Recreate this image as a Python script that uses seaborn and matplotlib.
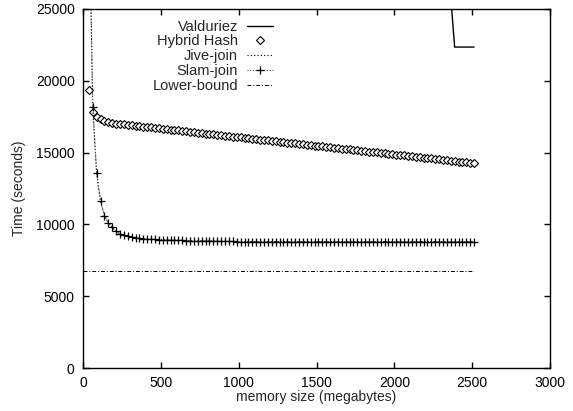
import numpy as np
import pandas as pd
import matplotlib
matplotlib.use("Agg")
import matplotlib.pyplot as plt
import seaborn as sns

# ---- data ----
memory_mb = np.arange(37.5, 2513, 25)  # 100 memory sizes

hybrid_hash = [19360, 17830, 17450, 17320, 17220, 17130, 17060, 17020, 16990, 16960,
               16930, 16900, 16870, 16840, 16810, 16780, 16750, 16720, 16690, 16660,
               16630, 16600, 16570, 16540, 16510, 16480, 16450, 16420, 16390, 16360,
               16330, 16300, 16270, 16240, 16210, 16180, 16150, 16120, 16090, 16060,
               16030, 16000, 15970, 15940, 15910, 15880, 15850, 15820, 15790, 15760,
               15730, 15700, 15670, 15640, 15610, 15580, 15550, 15520, 15490, 15460,
               15430, 15400, 15370, 15340, 15310, 15280, 15250, 15220, 15190, 15160,
               15130, 15100, 15070, 15040, 15010, 14980, 14950, 14920, 14890, 14860,
               14830, 14800, 14770, 14740, 14710, 14680, 14650, 14620, 14590, 14560,
               14530, 14500, 14470, 14440, 14410, 14380, 14350, 14320, 14290, 14260]

slam_join = [34000, 18180, 13580, 11600, 10600, 10110, 9800, 9520, 9350, 9260,
             9180, 9110, 9070, 9030, 9000, 8980, 8960, 8950, 8940, 8930,
             8920, 8910, 8900, 8890, 8880, 8870, 8865, 8860, 8855, 8850,
             8845, 8840, 8835, 8830, 8825, 8820, 8815, 8810, 8808, 8806,
             8804, 8802, 8800, 8800, 8800, 8800, 8800, 8800, 8800, 8800,
             8800, 8800, 8800, 8800, 8800, 8800, 8800, 8800, 8800, 8800,
             8800, 8800, 8800, 8800, 8800, 8800, 8800, 8800, 8800, 8800,
             8800, 8800, 8800, 8800, 8800, 8800, 8800, 8800, 8800, 8800,
             8800, 8800, 8800, 8800, 8800, 8800, 8800, 8800, 8800, 8800,
             8800, 8800, 8800, 8800, 8800, 8800, 8800, 8800, 8800, 8800]

jive_join = list(slam_join)  # hidden under Slam-join

valduriez_mb = [2337.5, 2362.5, 2387.5, 2412.5, 2437.5, 2462.5, 2487.5, 2512.5]
valduriez = [30000, 25800, 22350, 22350, 22350, 22350, 22350, 22350]

lower_mb = [0, 2512.5]
lower_bound = [6780, 6780]

x_ticks = [0, 500, 1000, 1500, 2000, 2500, 3000]
y_ticks = [0, 5000, 10000, 15000, 20000, 25000]

# ---- style ----
sns.set_style("ticks")
plt.rcParams["font.family"] = ["Liberation Sans", "DejaVu Sans"]
plt.rcParams["font.size"] = 10

fig = plt.figure(figsize=(5.73, 4.11), dpi=100)
ax = fig.add_axes([83 / 573, 1 - 368 / 411, 467 / 573, 359 / 411])

sns.lineplot(x=valduriez_mb, y=valduriez, ax=ax, color="black", lw=1.0,
             label="Valduriez", sort=False)
sns.lineplot(x=memory_mb, y=hybrid_hash, ax=ax, color="black", linestyle="None",
             marker="D", markersize=3.8, markerfacecolor="white",
             markeredgecolor="black", markeredgewidth=0.8, label="Hybrid Hash", sort=False)
sns.lineplot(x=memory_mb, y=jive_join, ax=ax, color="black", lw=0.8,
             linestyle=(0, (1, 2)), label="Jive-join", sort=False)
sns.lineplot(x=memory_mb, y=slam_join, ax=ax, color="#444444", lw=0.8,
             linestyle=(0, (1, 1.5)), marker="+", markersize=5.5,
             markeredgecolor="black", markeredgewidth=0.9, label="Slam-join", sort=False)
sns.lineplot(x=lower_mb, y=lower_bound, ax=ax, color="black", lw=0.7,
             linestyle=(0, (4, 2, 1, 2)), label="Lower-bound", sort=False)

ax.set_xlim(0, 3000)
ax.set_ylim(0, 25000)
ax.set_xticks(x_ticks)
ax.set_yticks(y_ticks)
ax.tick_params(direction="in", length=4, width=1, top=True, right=True,
               labelsize=10, pad=6, colors="black")
for s in ax.spines.values():
    s.set_visible(True)
    s.set_color("black")
    s.set_linewidth(1.0)

ax.set_xlabel("memory size (megabytes)", fontsize=10)
ax.set_ylabel("Time (seconds)", fontsize=10)
ax.xaxis.set_label_coords(0.5, -0.06)
ax.yaxis.set_label_coords(-0.123, 0.5)

leg = ax.legend(loc="upper right", bbox_to_anchor=((273 - 83) / 467, 0.970),
                markerfirst=False, frameon=False, borderpad=0, borderaxespad=0,
                handlelength=1.8, handletextpad=0.6, labelspacing=0.05,
                fontsize=10.5, numpoints=1)

fig.savefig("out.png", dpi=100)
